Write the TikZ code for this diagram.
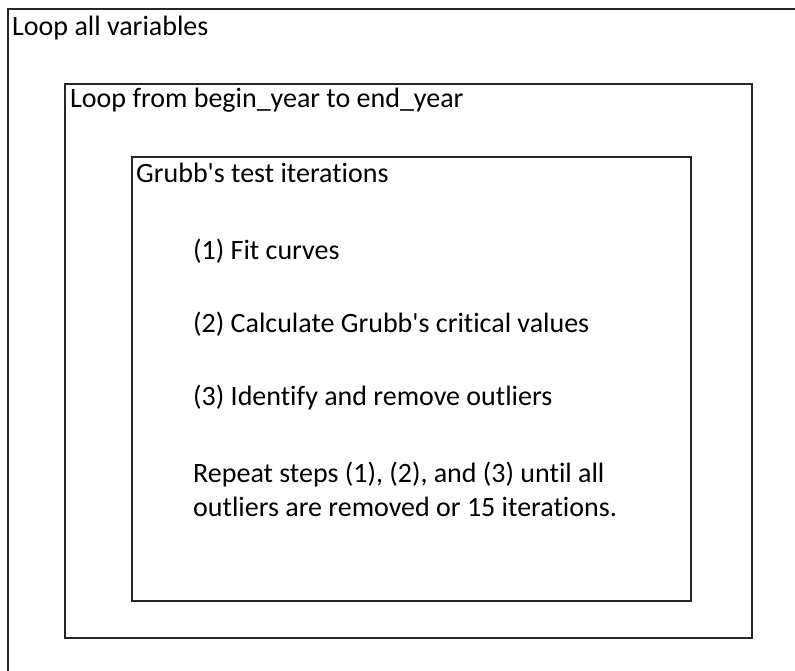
\documentclass[tikz,border=0pt]{standalone}
\usepackage{fontspec}
\setmainfont{Carlito}[Ligatures={NoCommon}]
\usepackage{tikz}
\usetikzlibrary{positioning}

\begin{document}
\begin{tikzpicture}[
    x=1pt, y=-1pt,
    frame/.style={rectangle, draw=black!85, line width=2pt, inner sep=0pt, anchor=north west},
    boxtext/.style={anchor=base west, inner sep=0pt, font=\fontsize{28}{34}\selectfont}
]
\useasboundingbox (0,0) rectangle (795,671);

\node[frame, minimum width=800pt, minimum height=680pt] (outer) at (7,8) {};
\node[frame, minimum width=687pt, minimum height=554pt] (middle) at (64,83) {};
\node[frame, minimum width=559pt, minimum height=444pt] (inner) at (131,156) {};

\node[boxtext] (allvars) at (12,36) {Loop all variables};
\node[boxtext] (years) at (70,108) {Loop from begin\_year to end\_year};
\node[boxtext] (grubbs) at (136,183) {Grubb\textquotesingle s test iterations};

\node[boxtext] (fit) at (193,259) {(1) Fit curves};
\node[boxtext] (crit) at (193,332) {(2) Calculate Grubb\textquotesingle s critical values};
\node[boxtext] (remove) at (193,405) {(3) Identify and remove outliers};
\node[boxtext] (repeat) at (193,482) {Repeat steps (1), (2), and (3) until all};
\node[boxtext] (until) at (193,516) {outliers are removed or 15 iterations.};
\end{tikzpicture}
\end{document}
